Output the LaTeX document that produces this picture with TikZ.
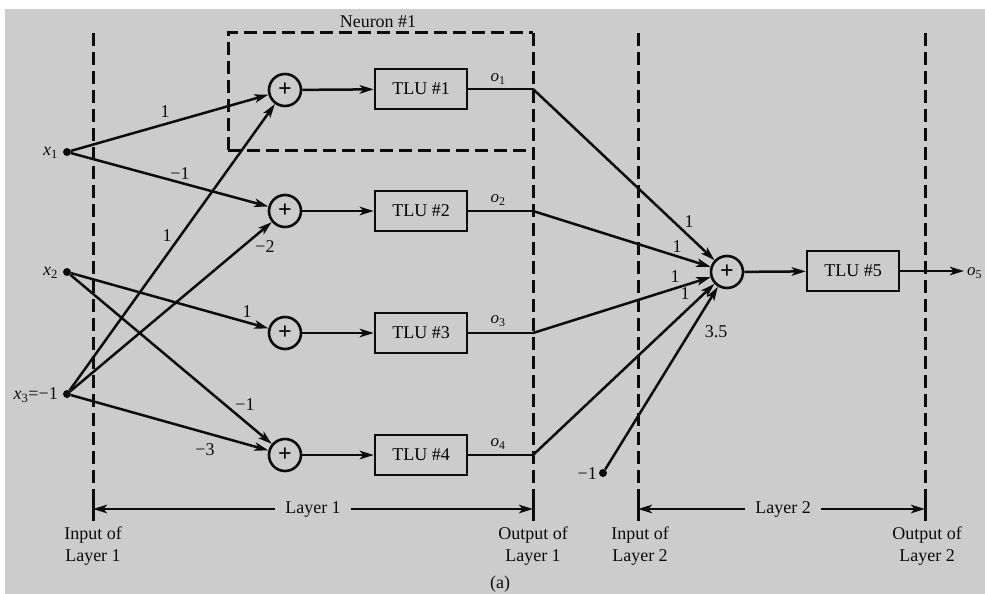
\documentclass[tikz,border=0pt]{standalone}
\usepackage{fontspec}
\setmainfont{Liberation Serif}
\usetikzlibrary{arrows.meta}
\definecolor{bgc}{RGB}{204,204,204}
\definecolor{ink}{RGB}{12,12,12}
\newcommand{\sv}[2]{\textit{#1}\textsubscript{#2}}
\begin{document}
\begin{tikzpicture}[x=1pt,y=-1pt,
  conn/.style={line width=2.5pt, draw=ink},
  arr/.style={conn, -{Stealth[length=14pt,width=8.5pt,inset=3.5pt]}},
  dsh/.style={line width=3pt, draw=ink, dash pattern=on 13pt off 6pt},
  tick/.style={line width=3pt, draw=ink},
  sumnode/.style={circle, draw=ink, line width=2.6pt, minimum size=32pt, inner sep=0pt,
    font=\fontsize{24}{24}\selectfont\bfseries},
  tlu/.style={rectangle, draw=ink, line width=2.5pt, minimum width=92pt, minimum height=40pt,
    inner sep=0pt, font=\fontsize{18}{18}\selectfont},
  dotnode/.style={circle, fill=ink, minimum size=8pt, inner sep=0pt},
  lbl/.style={font=\fontsize{18}{22}\selectfont, inner sep=1pt, text=ink},
  wlbl/.style={font=\fontsize{18}{18}\selectfont, inner sep=0pt, text=ink},
  olbl/.style={font=\fontsize{17}{17}\selectfont, inner sep=0pt, text=ink},
  laylbl/.style={font=\fontsize{18}{18}\selectfont, inner xsep=10pt, inner ysep=1pt, text=ink}
]
\useasboundingbox (0,0) rectangle (985,594);
\clip (0,0) rectangle (985,594);
\fill[white] (0,0) rectangle (985,594);
\fill[bgc] (5,9) rectangle (985,594);

% dashed layer boundaries and neuron box
\draw[dsh] (93,33) -- (93,502);
\draw[dsh] (533,33) -- (533,502);
\draw[dsh] (638,33) -- (638,502);
\draw[dsh] (925,33) -- (925,502);
\draw[tick] (93,502) -- (93,521);
\draw[tick] (533,502) -- (533,521);
\draw[tick] (638,502) -- (638,521);
\draw[tick] (925,502) -- (925,521);
\draw[dsh] (228,150) -- (228,33) -- (533,33);
\draw[dsh] (228,150) -- (533,150);
\node[lbl] (neu) at (378,22) {Neuron \#1};

% inputs
\node[dotnode] (x1) at (67,152) {};
\node[dotnode] (x2) at (67,272) {};
\node[dotnode] (x3) at (67,394) {};
\node[lbl, anchor=east] (lx1) at (59,153) {\sv{x}{1}};
\node[lbl, anchor=east] (lx2) at (59,273) {\sv{x}{2}};
\node[lbl, anchor=east] (lx3) at (59,395) {\sv{x}{3}=−1};

% summing junctions and TLUs of layer 1
\node[sumnode] (s1) at (285,90) {+};
\node[sumnode] (s2) at (285,211) {+};
\node[sumnode] (s3) at (285,333) {+};
\node[sumnode] (s4) at (285,455) {+};
\node[tlu] (t1) at (421,89) {TLU \#1};
\node[tlu] (t2) at (421,211) {TLU \#2};
\node[tlu] (t3) at (421,333) {TLU \#3};
\node[tlu] (t4) at (421,455) {TLU \#4};

% input connections
\draw[arr] (x1) -- (s1);
\draw[arr] (x1) -- (s2);
\draw[arr] (x3) -- (s1);
\draw[arr] (x3) -- (s2);
\draw[arr] (x2) -- (s3);
\draw[arr] (x2) -- (s4);
\draw[arr] (x3) -- (s4);
\node[wlbl] (w11) at (165,112) {1};
\node[wlbl] (w12) at (180,174) {−1};
\node[wlbl] (w31) at (167,236) {1};
\node[wlbl] (w32) at (265,247) {−2};
\node[wlbl] (w23) at (247,312) {1};
\node[wlbl] (w24) at (245,405) {−1};
\node[wlbl] (w34) at (205,450) {−3};

\draw[arr] (s1) -- (t1);
\draw[arr] (s2) -- (t2);
\draw[arr] (s3) -- (t3);
\draw[arr] (s4) -- (t4);

% outputs of layer 1
\coordinate (c1) at (533,89);
\coordinate (c2) at (533,211);
\coordinate (c3) at (533,333);
\coordinate (c4) at (533,455);
\draw[conn] (t1) -- (c1);
\draw[conn] (t2) -- (c2);
\draw[conn] (t3) -- (c3);
\draw[conn] (t4) -- (c4);
\node[olbl] (o1) at (498,79) {\sv{o}{1}};
\node[olbl] (o2) at (498,200) {\sv{o}{2}};
\node[olbl] (o3) at (498,321) {\sv{o}{3}};
\node[olbl] (o4) at (498,444) {\sv{o}{4}};

% layer 2
\node[sumnode] (s5) at (727,272) {+};
\node[tlu] (t5) at (853,271) {TLU \#5};
\node[dotnode] (m1) at (603,473) {};
\node[lbl, anchor=east] (lm1) at (598,474) {−1};
\draw[arr] (c1) -- (s5);
\draw[arr] (c2) -- (s5);
\draw[arr] (c3) -- (s5);
\draw[arr] (c4) -- (s5);
\draw[arr] (m1) -- (s5);
\node[wlbl] (v1) at (689,222) {1};
\node[wlbl] (v2) at (677,247) {1};
\node[wlbl] (v3) at (675,277) {1};
\node[wlbl] (v4) at (685,294) {1};
\node[wlbl] (v5) at (716,332) {3.5};
\draw[arr] (s5) -- (t5);
\coordinate (oend) at (964,271);
\draw[arr] (t5) -- (oend);
\node[olbl, anchor=west] (o5) at (967,273) {\sv{o}{5}};

% layer spans
\coordinate (b1) at (93,509);
\coordinate (b2) at (533,509);
\coordinate (b3) at (638,509);
\coordinate (b4) at (925,509);
\node[laylbl] (L1) at (313,509) {Layer 1};
\node[laylbl] (L2) at (783,509) {Layer 2};
\draw[arr] (L1.west) -- (b1);
\draw[arr] (L1.east) -- (b2);
\draw[arr] (L2.west) -- (b3);
\draw[arr] (L2.east) -- (b4);

\node[lbl, align=center] (in1) at (93,546) {Input of\\Layer 1};
\node[lbl, align=center] (out1) at (533,546) {Output of\\Layer 1};
\node[lbl, align=center] (in2) at (640,546) {Input of\\Layer 2};
\node[lbl, align=center] (out2) at (927,546) {Output of\\Layer 2};
\node[lbl] (cap) at (500,584) {(a)};
\end{tikzpicture}
\end{document}
